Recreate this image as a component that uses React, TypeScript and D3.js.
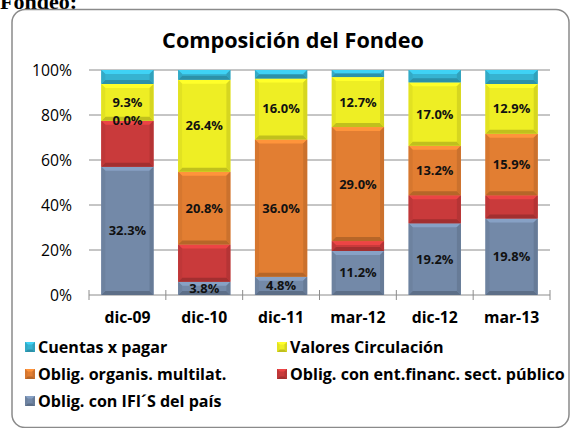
import React, { useEffect, useRef } from "react";
import * as d3 from "d3";

const categories = ["dic-09", "dic-10", "dic-11", "mar-12", "dic-12", "mar-13"];

// raw amounts (labels show these); bars are drawn as 100% stacked
const ifiPais = [32.3, 3.8, 4.8, 11.2, 19.2, 19.8];
const sectPublico = [11.6, 10.7, 0.0, 2.5, 7.5, 6.0];
const multilat = [0.0, 20.8, 36.0, 29.0, 13.2, 15.9];
const valores = [9.3, 26.4, 16.0, 12.7, 17.0, 12.9];
const cuentas = [3.5, 2.8, 2.2, 1.8, 3.3, 3.6];

const yTicks = [0, 0.2, 0.4, 0.6, 0.8, 1];

const series = [
  { key: "ifi", label: "Oblig. con IFI´S del país", values: ifiPais, color: "#7389a8", showLabel: true },
  { key: "pub", label: "Oblig. con ent.financ. sect. público", values: sectPublico, color: "#c93a3b", showLabel: false },
  { key: "mul", label: "Oblig. organis. multilat.", values: multilat, color: "#e27e32", showLabel: true },
  { key: "val", label: "Valores Circulación", values: valores, color: "#eeee24", showLabel: true },
  { key: "cxp", label: "Cuentas x pagar", values: cuentas, color: "#36b3d1", showLabel: false },
];

// legend order as in the picture
const legendOrder = ["cxp", "val", "mul", "pub", "ifi"];

const FONT = "'Open Sans', Lato, sans-serif";

export default function App() {
  const svgRef = useRef<SVGSVGElement | null>(null);

  useEffect(() => {
    document.body.style.margin = "0";
    const width = 570;
    const height = 428;
    const margin = { top: 70, right: 20, bottom: 133, left: 89 };
    const innerWidth = width - margin.left - margin.right;
    const innerHeight = height - margin.top - margin.bottom;

    const svg = d3.select(svgRef.current);
    svg.selectAll("*").remove();
    svg.attr("width", width).attr("height", height);

    // font size that gives a sample string the width seen in the picture
    const fit = (sample: string, weight: string, target: number) => {
      const t = svg
        .append("text")
        .attr("font-family", FONT)
        .attr("font-weight", weight)
        .attr("font-size", 100)
        .text(sample);
      const w = (t.node() as SVGTextElement).getComputedTextLength();
      t.remove();
      return w > 0 ? (100 * target) / w : 14;
    };
    const titleSize = fit("Composición del Fondeo", "bold", 262);
    const legendSize = fit("Oblig. con ent.financ. sect. público", "bold", 275);
    const catSize = fit("dic-09", "bold", 46);
    const tickSize = fit("100%", "normal", 40);
    const labelSize = fit("32.3%", "bold", 37.5);

    svg.append("rect").attr("width", width).attr("height", height).attr("fill", "#fff");

    // heading cut off at the top of the page
    svg
      .append("text")
      .attr("x", 0)
      .attr("y", 9)
      .attr("font-family", "'Liberation Serif', 'Times New Roman', serif")
      .attr("font-weight", "bold")
      .attr("font-size", 22)
      .text("Fondeo:");

    // chart frame
    svg
      .append("rect")
      .attr("x", 12)
      .attr("y", 9.5)
      .attr("width", 557)
      .attr("height", 418)
      .attr("rx", 13)
      .attr("fill", "#fff")
      .attr("stroke", "#8a8a8a")
      .attr("stroke-width", 1.5);

    svg
      .append("text")
      .attr("x", 293)
      .attr("y", 40)
      .attr("dy", "0.35em")
      .attr("text-anchor", "middle")
      .attr("font-family", FONT)
      .attr("font-weight", "bold")
      .attr("font-size", titleSize)
      .attr("fill", "#000")
      .text("Composición del Fondeo");

    const g = svg.append("g").attr("transform", `translate(${margin.left},${margin.top})`);

    const x = d3.scaleBand<string>().domain(categories).range([0, innerWidth]).paddingInner(0.32).paddingOuter(0.16);
    const xTick = d3.scaleLinear().domain([0, categories.length]).range([0, innerWidth]);
    const y = d3.scaleLinear().domain([0, 1]).range([innerHeight, 0]);

    const rows = categories.map((c, i) => {
      const r: any = { cat: c };
      series.forEach((s) => (r[s.key] = s.values[i]));
      return r;
    });
    const stacked = d3
      .stack<any>()
      .keys(series.map((s) => s.key))
      .offset(d3.stackOffsetExpand)(rows);

    // gridlines
    g.append("g")
      .selectAll("line")
      .data(yTicks)
      .join("line")
      .attr("x1", 0)
      .attr("x2", innerWidth)
      .attr("y1", (d) => y(d))
      .attr("y2", (d) => y(d))
      .attr("stroke", "#8c8c8c")
      .attr("stroke-width", 1);

    // y tick labels
    g.append("g")
      .selectAll("text")
      .data(yTicks)
      .join("text")
      .attr("x", -17)
      .attr("y", (d) => y(d))
      .attr("dy", "0.35em")
      .attr("text-anchor", "end")
      .attr("font-family", FONT)
      .attr("font-size", tickSize)
      .attr("fill", "#000")
      .text((d) => d3.format(".0%")(d));

    // category tick marks
    g.append("g")
      .selectAll("line")
      .data(d3.range(categories.length + 1))
      .join("line")
      .attr("x1", (d) => xTick(d))
      .attr("x2", (d) => xTick(d))
      .attr("y1", innerHeight - 5)
      .attr("y2", innerHeight + 5)
      .attr("stroke", "#8c8c8c");

    // category labels
    g.append("g")
      .selectAll("text")
      .data(categories)
      .join("text")
      .attr("x", (d) => x(d)! + x.bandwidth() / 2)
      .attr("y", innerHeight + 22)
      .attr("dy", "0.35em")
      .attr("text-anchor", "middle")
      .attr("font-family", FONT)
      .attr("font-weight", "bold")
      .attr("font-size", catSize)
      .text((d) => d);

    // bevelled bar segment
    const bevel = (
      parent: d3.Selection<SVGGElement, unknown, null, undefined>,
      bx: number,
      by: number,
      bw: number,
      bh: number,
      color: string,
      b: number
    ) => {
      const base = d3.color(color)!;
      parent.append("rect").attr("x", bx).attr("y", by).attr("width", bw).attr("height", bh).attr("fill", color);
      const e = Math.min(b, bh / 2);
      if (e <= 0.2) return;
      const poly = (pts: number[][], fill: string) =>
        parent.append("polygon").attr("points", pts.map((p) => p.join(",")).join(" ")).attr("fill", fill);
      poly(
        [[bx, by], [bx + bw, by], [bx + bw - e, by + e], [bx + e, by + e]],
        base.brighter(0.45).formatHex()
      );
      poly(
        [[bx, by + bh], [bx + bw, by + bh], [bx + bw - e, by + bh - e], [bx + e, by + bh - e]],
        base.darker(0.6).formatHex()
      );
      poly([[bx, by], [bx + e, by + e], [bx + e, by + bh - e], [bx, by + bh]], base.darker(0.15).formatHex());
      poly(
        [[bx + bw, by], [bx + bw - e, by + e], [bx + bw - e, by + bh - e], [bx + bw, by + bh]],
        base.darker(0.3).formatHex()
      );
    };

    const bars = g.append("g");
    stacked.forEach((layer, si) => {
      const s = series[si];
      layer.forEach((d) => {
        const cat = (d.data as any).cat as string;
        const y0 = y(d[0]);
        const y1 = y(d[1]);
        const h = y0 - y1;
        if (h <= 0) return;
        bevel(bars as any, x(cat)!, y1, x.bandwidth(), h, s.color, 4);
      });
    });

    // data labels
    const labels = g.append("g");
    stacked.forEach((layer, si) => {
      const s = series[si];
      if (!s.showLabel) return;
      layer.forEach((d, i) => {
        const cat = (d.data as any).cat as string;
        labels
          .append("text")
          .attr("x", x(cat)! + x.bandwidth() / 2)
          .attr("y", (y(d[0]) + y(d[1])) / 2)
          .attr("dy", "0.35em")
          .attr("text-anchor", "middle")
          .attr("font-family", FONT)
          .attr("font-weight", "bold")
          .attr("font-size", labelSize)
          .attr("fill", "#111")
          .text(d3.format(".1f")(s.values[i]) + "%");
      });
    });

    // legend
    const legend = svg.append("g");
    legendOrder.forEach((k, i) => {
      const s = series.find((t) => t.key === k)!;
      const col = i % 2;
      const row = Math.floor(i / 2);
      const lx = col === 0 ? 25 : 277;
      const ly = 347 + row * 27;
      const item = legend.append("g");
      bevel(item as any, lx, ly - 5, 10, 10, s.color, 2.5);
      item
        .append("text")
        .attr("x", lx + 13)
        .attr("y", ly)
        .attr("dy", "0.35em")
        .attr("font-family", FONT)
        .attr("font-weight", "bold")
        .attr("font-size", legendSize)
        .attr("fill", "#000")
        .text(s.label);
    });
  }, []);

  return (
    <div style={{ position: "absolute", left: 0, top: 0 }}>
      <svg ref={svgRef} style={{ display: "block" }}></svg>
    </div>
  );
}
